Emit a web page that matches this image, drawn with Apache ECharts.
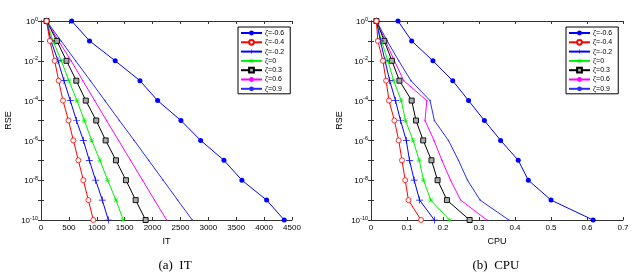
<!DOCTYPE html>
<html>
<head>
<meta charset="utf-8">
<script src="https://cdn.jsdelivr.net/npm/echarts@6/dist/echarts.min.js"></script>
<style>
html,body{margin:0;padding:0;background:#fff;}
#c{width:641px;height:279px;}
</style>
</head>
<body>
<div id="c"></div>
<script>
// RSE levels (y values, one per decade)
const rseLevels = [1e0, 1e-1, 1e-2, 1e-3, 1e-4, 1e-5, 1e-6, 1e-7, 1e-8, 1e-9, 1e-10];
const seriesNames = ['ζ=-0.6', 'ζ=-0.4', 'ζ=-0.2', 'ζ=0', 'ζ=0.3', 'ζ=0.6', 'ζ=0.9'];
const xTicksIT = [0, 500, 1000, 1500, 2000, 2500, 3000, 3500, 4000, 4500];
const xTicksCPU = [0, 0.1, 0.2, 0.3, 0.4, 0.5, 0.6, 0.7];

// (a) IT values at each RSE level
const itM06 = [550, 870, 1330, 1774, 2091, 2509, 2862, 3280, 3602, 4045, 4361];
const itM04 = [100, 158, 245, 317, 394, 493, 580, 670, 759, 849, 938];
const itM02 = [100, 180, 305, 412, 525, 636, 759, 866, 980, 1099, 1207];
const itZ0  = [100, 215, 364, 500, 645, 777, 908, 1057, 1195, 1344, 1475];
const itP03 = [100, 285, 457, 633, 803, 990, 1159, 1344, 1523, 1697, 1876];
const itP06 = [100, 315, 540, 750, 962, 1175, 1390, 1605, 1820, 2035, 2252];
const itP09 = [100, 360, 620, 885, 1145, 1405, 1670, 1930, 2190, 2450, 2712];

// (b) CPU values at each RSE level
const cpuM06 = [0.075, 0.113, 0.172, 0.227, 0.271, 0.315, 0.360, 0.409, 0.437, 0.500, 0.617];
const cpuM04 = [0.015, 0.019, 0.033, 0.042, 0.050, 0.065, 0.077, 0.086, 0.095, 0.104, 0.139];
const cpuM02 = [0.015, 0.026, 0.039, 0.052, 0.068, 0.082, 0.098, 0.107, 0.120, 0.135, 0.176];
const cpuZ0  = [0.015, 0.029, 0.047, 0.063, 0.084, 0.096, 0.117, 0.134, 0.146, 0.166, 0.218];
const cpuP03 = [0.015, 0.037, 0.058, 0.079, 0.113, 0.125, 0.145, 0.168, 0.185, 0.211, 0.274];
const cpuP06 = [0.015, 0.040, 0.065, 0.091, 0.155, 0.150, 0.175, 0.197, 0.221, 0.249, 0.322];
const cpuP09 = [0.015, 0.045, 0.077, 0.111, 0.164, 0.176, 0.215, 0.243, 0.268, 0.303, 0.383];

const itSets = [itM06, itM04, itM02, itZ0, itP03, itP06, itP09];
const cpuSets = [cpuM06, cpuM04, cpuM02, cpuZ0, cpuP03, cpuP06, cpuP09];

const PLUS = 'path://M4.5,0h1v10h-1z M0,4.5h10v1h-10z';
const STAR = 'path://M4.5,0h1v10h-1z M0,4.5h10v1h-10z M1,0.3L0.3,1L9,9.7L9.7,9Z M9,0.3L9.7,1L1,9.7L0.3,9Z';
const styles = [
  {color:'#0000ff', symbol:'circle', size:5, fill:'#0000ff', bw:0},
  {color:'#ff0000', symbol:'circle', size:5, fill:'#ffffff', bw:0.8},
  {color:'#0000ff', symbol:PLUS, size:7, fill:'#0000ff', bw:0},
  {color:'#00ee00', symbol:STAR, size:5, fill:'#00ee00', bw:0},
  {color:'#000000', symbol:'rect', size:5, fill:'#aaaaaa', bw:0.9},
  {color:'#ff00ff', symbol:'circle', size:1.5, fill:'#ff00ff', bw:0},
  {color:'#2a2aff', symbol:'circle', size:1.5, fill:'#2a2aff', bw:0}
];

const FONT = 'Liberation Sans';
const axisCol = '#333';

function yAxisCfg(gi, pos, labels, nameGap) {
  return {
    type:'log', logBase:10, min:1e-10, max:1, interval:1, gridIndex:gi, position:pos,
    name: labels ? 'RSE' : '', nameLocation:'middle', nameGap:nameGap, nameRotate:90,
    nameTextStyle:{fontFamily:FONT, fontSize:9, color:'#000'},
    axisLine:{show:true, lineStyle:{color:axisCol, width:1}},
    axisTick:{show:true, inside:true, length:3, lineStyle:{color:axisCol}},
    splitLine:{show:false},
    axisLabel:{
      show:labels, margin:3, fontFamily:FONT,
      formatter: v => {
        const e = Math.round(Math.log10(v));
        if (e % 2 !== 0) return '';
        return '{b|10}{e|' + e + '}';
      },
      rich:{
        b:{fontSize:8, fontFamily:FONT, color:'#000', verticalAlign:'bottom'},
        e:{fontSize:5.5, fontFamily:FONT, color:'#000', verticalAlign:'top', padding:[0,0,4,0]}
      }
    }
  };
}
function xAxisCfg(gi, pos, ticks, labels, name) {
  return {
    type:'value', min:ticks[0], max:ticks[ticks.length-1], interval:ticks[1]-ticks[0],
    gridIndex:gi, position:pos,
    name: labels ? name : '', nameLocation:'middle', nameGap:16,
    nameTextStyle:{fontFamily:FONT, fontSize:9, color:'#000'},
    axisLine:{show:true, onZero:false, lineStyle:{color:axisCol, width:1}},
    axisTick:{show:true, inside:true, length:3, lineStyle:{color:axisCol}},
    splitLine:{show:false},
    axisLabel:{show:labels, margin:4, fontSize:8, fontFamily:FONT, color:'#000',
      formatter: v => String(Math.round(v*1000)/1000)}
  };
}

const series = [];
function addSeries(sets, xi, yi) {
  sets.forEach((arr, k) => {
    const st = styles[k];
    series.push({
      name: seriesNames[k], type:'line', xAxisIndex:xi, yAxisIndex:yi,
      data: arr.map((x, j) => [x, rseLevels[j]]),
      symbol: st.symbol, symbolSize: st.size, showSymbol:true,
      lineStyle:{color:st.color, width:1},
      itemStyle:{color: st.fill, borderColor:st.color, borderWidth:st.bw},
      animation:false, z: 10 - k
    });
  });
}
addSeries(itSets, 0, 0);
addSeries(cpuSets, 2, 2);

function legendCfg(left) {
  return {
    data: seriesNames, orient:'vertical', left:left, top:27,
    itemWidth:21, itemHeight:6, itemGap:1.3,
    padding:[2,6,1,2], borderColor:'#000', borderWidth:1, backgroundColor:'#fff',
    textStyle:{fontFamily:FONT, fontSize:7, lineHeight:8, color:'#000', padding:[0,0,0,-2]},
    selectedMode:false
  };
}

const option = {
  animation:false,
  backgroundColor:'#fff',
  grid:[
    {left:41, top:21, width:251, height:199},
    {left:371, top:21, width:252, height:199}
  ],
  xAxis:[
    xAxisCfg(0,'bottom',xTicksIT,true,'IT'),
    xAxisCfg(0,'top',xTicksIT,false,''),
    xAxisCfg(1,'bottom',xTicksCPU,true,'CPU'),
    xAxisCfg(1,'top',xTicksCPU,false,'')
  ],
  yAxis:[
    yAxisCfg(0,'left',true,28),
    yAxisCfg(0,'right',false,0),
    yAxisCfg(1,'left',true,27),
    yAxisCfg(1,'right',false,0)
  ],
  legend:[legendCfg(238), legendCfg(566)],
  series: series,
  graphic:[
    {type:'text', x:175, y:266, style:{text:'(a)  IT', font:'13px "Liberation Serif"', fill:'#000', textAlign:'center', textVerticalAlign:'middle'}},
    {type:'text', x:496, y:266, style:{text:'(b)  CPU', font:'13px "Liberation Serif"', fill:'#000', textAlign:'center', textVerticalAlign:'middle'}}
  ]
};

const chart = echarts.init(document.getElementById('c'), null, {renderer:'canvas'});
chart.setOption(option);
</script>
</body>
</html>
